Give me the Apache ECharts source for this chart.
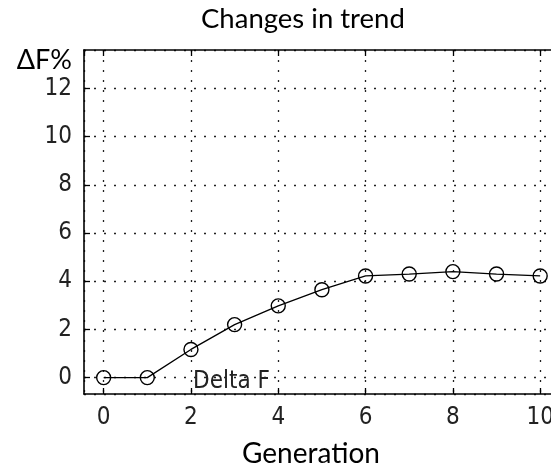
<!DOCTYPE html>
<html>
<head>
<meta charset="utf-8">
<script src="https://cdn.jsdelivr.net/npm/echarts@6/dist/echarts.min.js"></script>
<style>html,body{margin:0;padding:0;background:#fff;}#c{width:551px;height:470px;}</style>
</head>
<body>
<div id="c"></div>
<script>
const generations = [0, 1, 2, 3, 4, 5, 6, 7, 8, 9, 10];
const deltaF = [0, 0, 1.17, 2.2, 2.98, 3.65, 4.22, 4.3, 4.4, 4.3, 4.22];
const seriesName = 'Delta F';
const titleText = 'Changes in trend';
const xName = 'Generation';
const yName = 'ΔF%';

const chart = echarts.init(document.getElementById('c'));
const tickFont = {fontFamily: '"DejaVu Sans Condensed", "Liberation Sans Narrow", sans-serif', fontSize: 24, color: '#222'};
const gridDash = {show: true, lineStyle: {color: '#222', width: 1.3, type: [2, 8]}};
chart.setOption({
  animation: false,
  backgroundColor: '#fff',
  title: {
    text: titleText, left: 201, top: 5, padding: 0,
    textStyle: {fontFamily: 'Lato', fontWeight: 'normal', fontSize: 27.5, color: '#000'}
  },
  legend: {
    data: [{name: seriesName, icon: 'none'}],
    left: 183, top: 365, itemWidth: 0, itemHeight: 0,
    textStyle: Object.assign({}, tickFont, {color: '#222'})
  },
  grid: {left: 84, top: 50, right: -11, bottom: 76, containLabel: false, outerBoundsMode: 'none'},
  xAxis: [{
    type: 'value', min: -0.45, max: 10.5, splitNumber: 5,
    name: xName, nameLocation: 'middle', nameGap: 46,
    nameTextStyle: {fontFamily: 'Lato', fontSize: 28, color: '#000', padding: [0, 24, 0, 0]},
    axisLine: {show: true, onZero: false, lineStyle: {color: '#000', width: 1.6}},
    axisTick: {show: true, inside: true, length: 6, lineStyle: {color: '#000', width: 1.3}},
    axisLabel: Object.assign({showMinLabel: false, showMaxLabel: false, margin: 12}, tickFont),
    splitLine: gridDash
  }, {
    type: 'value', min: -0.45, max: 10.5, splitNumber: 5, position: 'top',
    axisLine: {show: true, onZero: false, lineStyle: {color: '#000', width: 1.6}},
    axisTick: {show: true, inside: true, length: 6, lineStyle: {color: '#000', width: 1.3}},
    axisLabel: {show: false}, splitLine: {show: false}
  }],
  yAxis: {
    type: 'value', min: -0.68, max: 13.6, splitNumber: 7,
    name: yName, nameLocation: 'end', nameGap: -24,
    nameTextStyle: {fontFamily: 'Lato', fontSize: 27, color: '#000', align: 'right', padding: [0, 12, 0, 0]},
    axisLine: {show: true, onZero: false, lineStyle: {color: '#000', width: 1.6}},
    axisTick: {show: true, inside: true, length: 6, lineStyle: {color: '#000', width: 1.3}},
    axisLabel: Object.assign({showMinLabel: false, showMaxLabel: false, margin: 12}, tickFont),
    splitLine: gridDash
  },
  series: [{
    name: seriesName, type: 'line', xAxisIndex: 0,
    data: generations.map((g, i) => [g, deltaF[i]]),
    symbol: 'circle', symbolSize: 14, showAllSymbol: true,
    lineStyle: {color: '#000', width: 1.3},
    itemStyle: {color: 'rgba(0,0,0,0)', borderColor: '#000', borderWidth: 1.4}
  }]
});
</script>
</body>
</html>
